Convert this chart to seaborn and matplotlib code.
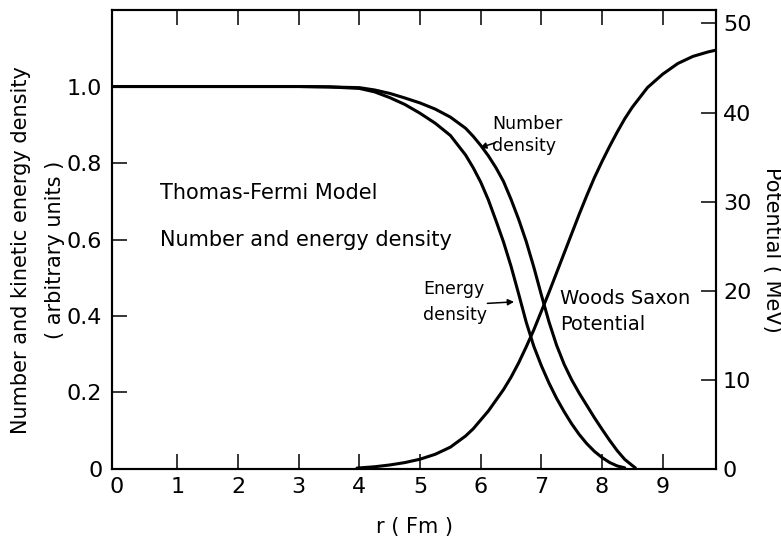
import matplotlib
matplotlib.use("Agg")
import matplotlib.pyplot as plt
import pandas as pd
import seaborn as sns

# Thomas-Fermi density profiles (normalised to the central value)
r_number = [-0.08, 1.0, 2.0, 3.0, 3.5, 4.0, 4.25, 4.5, 4.75, 5.0, 5.25, 5.5,
            5.75, 5.875, 6.0, 6.125, 6.25, 6.375, 6.5, 6.625, 6.75, 6.875, 7.0,
            7.125, 7.25, 7.375, 7.5, 7.625, 7.75, 7.875, 8.0, 8.125, 8.25,
            8.375, 8.5, 8.55]
number_density = [1.0, 1.0, 1.0, 1.0, 0.999, 0.997, 0.991, 0.982, 0.970, 0.957,
                  0.941, 0.920, 0.891, 0.870, 0.846, 0.819, 0.788, 0.752, 0.705,
                  0.653, 0.595, 0.528, 0.455, 0.385, 0.324, 0.274, 0.233, 0.198,
                  0.166, 0.134, 0.104, 0.075, 0.048, 0.025, 0.009, 0.003]

r_energy = [-0.08, 1.0, 2.0, 3.0, 3.5, 4.0, 4.25, 4.5, 4.75, 5.0, 5.25, 5.5,
            5.75, 5.875, 6.0, 6.125, 6.25, 6.375, 6.5, 6.625, 6.75, 6.875, 7.0,
            7.125, 7.25, 7.375, 7.5, 7.625, 7.75, 7.875, 8.0, 8.125, 8.25,
            8.375]
energy_density = [1.0, 1.0, 1.0, 1.0, 0.999, 0.995, 0.986, 0.971, 0.953, 0.930,
                  0.904, 0.872, 0.821, 0.788, 0.750, 0.704, 0.650, 0.594, 0.530,
                  0.458, 0.384, 0.321, 0.270, 0.225, 0.185, 0.150, 0.118, 0.090,
                  0.066, 0.046, 0.030, 0.017, 0.008, 0.003]

# Woods-Saxon potential depth (MeV, plotted as a positive well)
r_potential = [3.96, 4.25, 4.5, 4.75, 5.0, 5.25, 5.5, 5.75, 5.875, 6.0, 6.125,
               6.25, 6.375, 6.5, 6.625, 6.75, 6.875, 7.0, 7.125, 7.25, 7.375,
               7.5, 7.625, 7.75, 7.875, 8.0, 8.125, 8.25, 8.375, 8.5, 8.75,
               9.0, 9.25, 9.5, 9.75, 9.88]
potential = [0.1, 0.25, 0.45, 0.72, 1.1, 1.65, 2.45, 3.7, 4.5, 5.5, 6.5,
             7.7, 8.9, 10.3, 11.9, 13.7, 15.6, 17.7, 19.8, 22.0, 24.2,
             26.4, 28.6, 30.7, 32.7, 34.5, 36.2, 37.8, 39.3, 40.6, 42.8,
             44.3, 45.5, 46.3, 46.8, 47.0]

x_ticks = [1, 2, 3, 4, 5, 6, 7, 8, 9]
x_labels = ["1", "2", "3", "4", "5", "6", "7", "8", "9"]
left_ticks = [0.0, 0.2, 0.4, 0.6, 0.8, 1.0]
left_labels = ["0", "0.2", "0.4", "0.6", "0.8", "1.0"]
right_ticks = [0, 10, 20, 30, 40, 50]
right_labels = ["0", "10", "20", "30", "40", "50"]

sns.set_style("ticks")
plt.rcParams["font.family"] = ["DejaVu Sans"]
plt.rcParams["text.color"] = "black"
plt.rcParams["xtick.color"] = "black"
plt.rcParams["ytick.color"] = "black"
plt.rcParams["axes.labelcolor"] = "black"

num_df = pd.DataFrame({"r": r_number, "value": number_density})
en_df = pd.DataFrame({"r": r_energy, "value": energy_density})
pot_df = pd.DataFrame({"r": r_potential, "value": potential})

fig, ax = plt.subplots(figsize=(7.81, 5.39), dpi=100)
fig.subplots_adjust(left=0.1434, right=0.9168, bottom=0.1299, top=0.9814)
ax2 = ax.twinx()

lw = 2.2
sns.lineplot(data=num_df, x="r", y="value", ax=ax, color="black", lw=lw,
             sort=False, estimator=None)
sns.lineplot(data=en_df, x="r", y="value", ax=ax, color="black", lw=lw,
             sort=False, estimator=None)
sns.lineplot(data=pot_df, x="r", y="value", ax=ax2, color="black", lw=lw,
             sort=False, estimator=None)

ax.set_xlim(-0.08, 9.88)
ax.set_ylim(0, 1.2)
ax2.set_ylim(0, 51.5)

for a in (ax, ax2):
    for s in a.spines.values():
        s.set_linewidth(1.5)
        s.set_color("black")
        s.set_visible(True)

ax.set_xticks(x_ticks)
ax.set_xticklabels(x_labels)
# origin label sits on the frame, without a tick mark
ax.set_xticks([0], minor=True)
ax.set_xticklabels(["0"], minor=True)
ax.set_yticks(left_ticks)
ax.set_yticklabels(left_labels)
ax2.set_yticks(right_ticks)
ax2.set_yticklabels(right_labels)

ax.tick_params(axis="x", which="major", direction="in", length=11, width=1.1,
               top=True, labelsize=16, pad=6)
ax.tick_params(axis="x", which="minor", direction="in", length=0, top=False,
               labelsize=16, pad=6)
ax.tick_params(axis="y", direction="in", length=11, width=1.1,
               labelsize=16, pad=7)
ax2.tick_params(axis="y", direction="in", length=11, width=1.1,
                labelsize=16, pad=5)

ax.set_xlabel("r ( Fm )", fontsize=15, labelpad=14)
ax.set_ylabel("")
ax2.set_ylabel("")

fig.text(21 / 781, 1 - 250 / 539, "Number and kinetic energy density",
         rotation=90, fontsize=15, ha="center", va="center")
fig.text(55 / 781, 1 - 250 / 539, "( arbitrary units )",
         rotation=90, fontsize=15, ha="center", va="center")
fig.text(772 / 781, 1 - 250 / 539, "Potential ( MeV)",
         rotation=-90, fontsize=15, ha="center", va="center")

ax.text(0.71, 0.722, "Thomas-Fermi Model", fontsize=15, ha="left", va="center")
ax.text(0.71, 0.600, "Number and energy density", fontsize=15,
        ha="left", va="center")

ax.text(6.19, 0.873, "Number\ndensity", fontsize=12.5, ha="left",
        va="center", linespacing=1.25)
ax.annotate("", xy=(5.99, 0.840), xytext=(6.24, 0.853),
            arrowprops=dict(arrowstyle="-|>", color="black", lw=1.1,
                            mutation_scale=9, shrinkA=0, shrinkB=0))

ax.text(5.05, 0.437, "Energy\ndensity", fontsize=12.5, ha="left",
        va="center", linespacing=1.6)
ax.annotate("", xy=(6.55, 0.437), xytext=(6.11, 0.433),
            arrowprops=dict(arrowstyle="-|>", color="black", lw=1.1,
                            mutation_scale=9, shrinkA=0, shrinkB=0))

ax.text(7.31, 0.412, "Woods Saxon\nPotential", fontsize=14, ha="left",
        va="center", linespacing=1.45)

fig.savefig("out.png", dpi=100, facecolor="white")
